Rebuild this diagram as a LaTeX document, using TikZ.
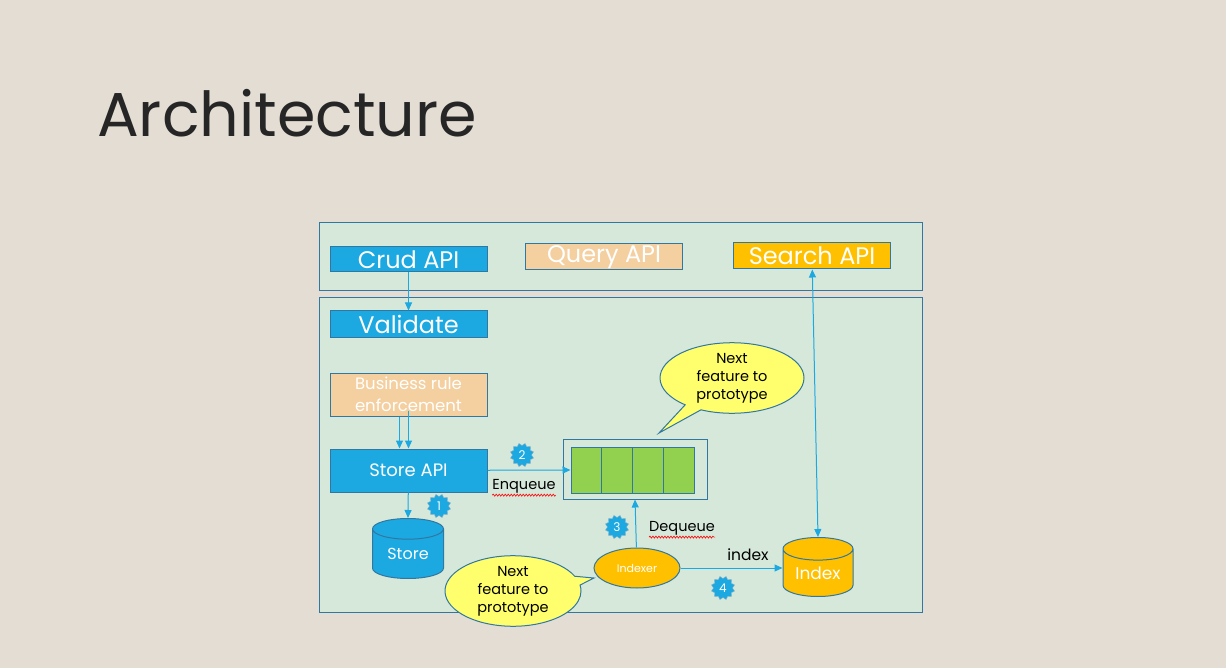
\documentclass[tikz,border=0pt]{standalone}
\usepackage{fontspec}
\setmainfont{Poppins}
\usetikzlibrary{positioning,shapes.geometric,shapes.callouts,shapes.symbols,arrows.meta,decorations.pathmorphing}
\definecolor{slide}{RGB}{228,221,211}
\definecolor{panel}{RGB}{213,232,218}
\definecolor{frame}{RGB}{49,119,160}
\definecolor{apiblue}{RGB}{28,169,225}
\definecolor{peach}{RGB}{244,207,160}
\definecolor{amber}{RGB}{255,192,0}
\definecolor{qgreen}{RGB}{146,208,80}
\definecolor{bubble}{RGB}{255,255,110}
\definecolor{titlegray}{RGB}{38,38,38}

\begin{document}
\begin{tikzpicture}[x=1pt,y=-1pt,
    box/.style={draw=frame, line width=1pt, text=white, inner sep=0pt,
      minimum width=157pt, minimum height=26pt, font=\fontsize{24}{26}\selectfont},
    db/.style={cylinder, shape border rotate=90, aspect=0.5, draw=frame, line width=1pt,
      text=white, minimum width=71pt, minimum height=60pt, inner sep=0pt},
    link/.style={draw=apiblue, line width=1pt, -{Triangle[length=8pt,width=7pt]}},
    note/.style={ellipse callout, draw=frame, fill=bubble, line width=1pt, align=center,
      inner sep=0pt, font=\fontsize{14.5}{18}\selectfont},
    badge/.style={star, star points=12, star point ratio=0.8, fill=apiblue, draw=frame!60,
      text=white, minimum size=19pt, inner sep=0pt, font=\fontsize{12}{12}\selectfont},
    lbl/.style={inner sep=0pt, font=\fontsize{14.5}{16}\selectfont},
    spell/.style={draw=red, line width=0.6pt, decorate,
      decoration={snake, amplitude=1pt, segment length=3pt}}]
  % slide
  \fill[slide] (0,0) rectangle (1226,668);
  \node[anchor=base west, inner sep=0pt, text=titlegray, font=\fontsize{62}{66}\selectfont]
    (title) at (97,137) {Architecture};
  % panels
  \filldraw[fill=panel, draw=frame, line width=1pt] (319,223) rectangle (922,291);
  \filldraw[fill=panel, draw=frame, line width=1pt] (319,298) rectangle (922,612);
  % top row
  \node[box, fill=apiblue, minimum height=25pt] (crud) at (408.5,259.5) {Crud API};
  \node[box, fill=peach] (query) at (604,257) {Query API};
  \node[box, fill=amber] (search) at (812,256) {Search API};
  % pipeline
  \node[box, fill=apiblue] (validate) at (408.5,324) {Validate};
  \node[box, fill=peach, minimum height=43pt, align=center, font=\fontsize{16.5}{22}\selectfont]
    (rule) at (408.5,394.5) {Business rule\\enforcement};
  \node[box, fill=apiblue, minimum height=43pt, font=\fontsize{18}{20}\selectfont]
    (storeapi) at (408.5,470.5) {Store API};
  \node[db, fill=apiblue, anchor=north, font=\fontsize{16}{18}\selectfont] (store) at (408,518) {Store};
  % queue
  \node[draw=frame, line width=1pt, minimum width=144pt, minimum height=60pt] (queue) at (635,469) {};
  \foreach \i in {1,...,4}
    \node[draw=frame, fill=qgreen, line width=1pt, minimum width=30.75pt, minimum height=46pt,
      inner sep=0pt] (cell\i) at ({571+30.75*(\i-0.5)},470) {};
  \node[ellipse, draw=frame, fill=amber, line width=1pt, text=white, minimum width=86pt,
    minimum height=40pt, inner sep=0pt, font=\fontsize{11}{12}\selectfont] (indexer) at (637,568) {Indexer};
  \node[db, fill=amber, anchor=north, minimum width=70pt, minimum height=59pt, font=\fontsize{17}{18}\selectfont]
    (index) at (818,537) {Index};
  % notes
  \node[note, minimum width=144pt, minimum height=64pt, callout absolute pointer={(659,433)}]
    (note1) at (732,378) {Next\\feature to\\prototype};
  \node[note, minimum width=136pt, minimum height=62pt, callout absolute pointer={(594,578)}]
    (note2) at (513,591) {Next\\feature to\\prototype};
  % connectors
  \draw[link] (crud) -- (validate);
  \draw[link] ([xshift=-9pt]rule.south) -- ([xshift=-9pt]storeapi.north);
  \draw[link] ([yshift=6pt]rule.south) -- (storeapi.north);
  \draw[link] (storeapi) -- (store.north);
  \draw[link] (storeapi) -- (cell1.west);
  \draw[link] (indexer) -- (queue.south);
  \draw[link] (indexer.east) -- (indexer.east -| index.west);
  \draw[link, {Triangle[length=8pt,width=7pt]}-{Triangle[length=8pt,width=7pt]}] (search) -- (index.north);
  % labels
  \node[lbl] (enq) at (524,486) {Enqueue};
  \node[lbl] (deq) at (682,528) {Dequeue};
  \node[lbl, font=\fontsize{15.5}{16}\selectfont] (idx) at (748,555) {index};
  \draw[spell] ([yshift=-2pt]enq.south west) -- ([yshift=-2pt]enq.south east);
  \draw[spell] ([yshift=-2pt]deq.south west) -- ([yshift=-2pt]deq.south east);
  \node[badge] (b1) at (439,506) {1};
  \node[badge] (b2) at (522,455) {2};
  \node[badge] (b3) at (617,527) {3};
  \node[badge] (b4) at (723,588) {4};
\end{tikzpicture}
\end{document}
